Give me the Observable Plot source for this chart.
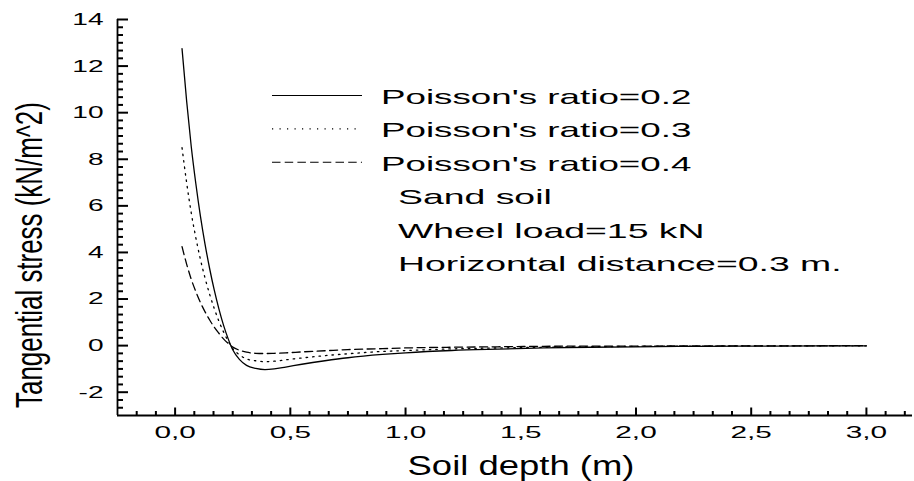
<!DOCTYPE html>
<html><head><meta charset="utf-8">
<script src="https://cdn.jsdelivr.net/npm/d3@7"></script>
<script src="https://cdn.jsdelivr.net/npm/@observablehq/plot@0.6"></script>
<style>
html,body{margin:0;padding:0;background:#fff;}
#chart svg{display:block;}
</style></head><body><div id="chart"></div>
<script>
// ---- data ----
const depth   = [0.03,0.05,0.07,0.09,0.11,0.13,0.15,0.17,0.19,0.21,0.23,0.25,0.28,0.31,0.35,0.39,0.43,0.48,0.55,0.65,0.75,0.9,1.0,1.2,1.4,1.6,1.8,2.0,2.3,2.6,3.0];
const ratio02 = [12.75,10.5,8.55,6.95,5.55,4.35,3.3,2.38,1.58,0.88,0.3,-0.18,-0.6,-0.85,-0.98,-1.03,-1.0,-0.92,-0.8,-0.65,-0.52,-0.38,-0.31,-0.21,-0.15,-0.1,-0.07,-0.05,-0.03,-0.02,-0.01];
const ratio03 = [8.5,7.0,5.7,4.63,3.7,2.9,2.2,1.59,1.05,0.59,0.2,-0.12,-0.4,-0.57,-0.65,-0.69,-0.67,-0.61,-0.53,-0.43,-0.35,-0.25,-0.21,-0.14,-0.1,-0.07,-0.05,-0.03,-0.02,-0.01,-0.01];
const ratio04 = [4.25,3.5,2.85,2.32,1.85,1.45,1.1,0.79,0.53,0.29,0.1,-0.06,-0.2,-0.28,-0.33,-0.34,-0.33,-0.31,-0.27,-0.22,-0.17,-0.13,-0.1,-0.07,-0.05,-0.03,-0.02,-0.02,-0.01,-0.01,0];
const seriesNames = ["Poisson's ratio=0.2","Poisson's ratio=0.3","Poisson's ratio=0.4"];
const notes = ["Sand soil","Wheel load=15 kN","Horizontal distance=0.3 m."];
const xTicks = [0,0.5,1,1.5,2,2.5,3];
const xTickLabels = ["0,0","0,5","1,0","1,5","2,0","2,5","3,0"];
const yTicks = [-2,0,2,4,6,8,10,12,14];
const yTickLabels = ["-2","0","2","4","6","8","10","12","14"];
const xTitle = "Soil depth (m)";
const yTitle = "Tangential stress (kN/m^2)";

// ---- styling ----
const xDomain = [-0.25, 3.2], yDomain = [-3, 14];
const dashes = [null, "1.5,5", "8,4.5"];
const legendDashes = [null, "1.2,6.3", "8.5,4.2"];
const FONT = "'Liberation Sans', Arial, Helvetica, sans-serif";

const xMinor = d3.range(-2, 39).filter(k => k % 6 !== 0).map(k => k / 12);
const yMinor = d3.range(-8, 43).filter(k => k % 6 !== 0).map(k => k / 3);
const seriesValues = [ratio02, ratio03, ratio04];

const lineMarks = seriesValues.map((vals, s) =>
  Plot.line(depth.map((d, i) => ({depth: d, stress: vals[i], series: seriesNames[s]})), {
    x: "depth", y: "stress", stroke: "#000", strokeWidth: 1.3,
    strokeDasharray: dashes[s] || undefined, curve: "monotone-x"
  }));

const chart = Plot.plot({
  width: 914, height: 481,
  marginLeft: 117, marginRight: 2, marginTop: 19, marginBottom: 66,
  style: {fontFamily: FONT, fontSize: "17px"},
  x: {domain: xDomain, ticks: xTicks, tickSize: 0, tickPadding: 10, label: null,
      tickFormat: d => xTickLabels[xTicks.indexOf(d)]},
  y: {domain: yDomain, ticks: yTicks, tickSize: 0, tickPadding: 14, label: null,
      tickFormat: d => yTickLabels[yTicks.indexOf(d)]},
  marks: [
    ...lineMarks,
    Plot.ruleX([xDomain[0]], {stroke: "black", strokeWidth: 1.8}),
    Plot.ruleY([yDomain[0]], {stroke: "black", strokeWidth: 1.8}),
    Plot.ruleX(xTicks, {x: d => d, y1: () => yDomain[0], y2: () => yDomain[0], insetTop: -7.5, stroke: "black", strokeWidth: 2}),
    Plot.ruleX(xMinor, {x: d => d, y1: () => yDomain[0], y2: () => yDomain[0], insetTop: -4, stroke: "black", strokeWidth: 2}),
    Plot.ruleY(yTicks, {y: d => d, x1: () => xDomain[0], x2: () => xDomain[0], insetRight: -11, stroke: "black", strokeWidth: 2}),
    Plot.ruleY(yMinor, {y: d => d, x1: () => xDomain[0], x2: () => xDomain[0], insetRight: -6, stroke: "black", strokeWidth: 2})
  ]
});
document.getElementById("chart").appendChild(chart);
const svg = d3.select(chart);

function stretch(sel, k) {
  sel.each(function() {
    const w = this.getComputedTextLength();
    this.setAttribute("textLength", w * k);
    this.setAttribute("lengthAdjust", "spacingAndGlyphs");
  });
}
stretch(svg.selectAll('g[aria-label="x-axis tick label"] text'), 1.75);
stretch(svg.selectAll('g[aria-label="y-axis tick label"] text'), 1.65);

const xt = svg.append("text").attr("x", 521).attr("y", 475)
  .attr("text-anchor", "middle").attr("font-size", 27).attr("font-family", FONT).attr("fill", "#000")
  .text(xTitle);
stretch(xt, 1.35);
const yt = svg.append("text")
  .attr("transform", "translate(42,255) scale(1.38,1) rotate(-90)")
  .attr("text-anchor", "middle").attr("font-size", 27).attr("font-family", FONT).attr("fill", "#000")
  .text(yTitle);
stretch(yt, 0.96);

const legend = svg.append("g").attr("font-family", FONT).attr("font-size", 21)
  .attr("fill", "#000").attr("text-anchor", "start");
const baseline0 = 104, rowGap = 33.4;
seriesNames.forEach((name, i) => {
  const yb = baseline0 + i * rowGap;
  legend.append("line").attr("x1", 272).attr("x2", 362).attr("y1", yb - 8.5).attr("y2", yb - 8.5)
    .attr("stroke", "#000").attr("stroke-width", 1.1)
    .attr("stroke-dasharray", legendDashes[i] || null);
  const t = legend.append("text").attr("x", 381).attr("y", yb).attr("text-anchor", "start").text(name);
  stretch(t, 1.75);
});
notes.forEach((note, j) => {
  const yb = baseline0 + (j + 3) * rowGap;
  const t = legend.append("text").attr("x", 398).attr("y", yb).attr("text-anchor", "start").text(note);
  stretch(t, 1.78);
});
</script>
</body></html>
